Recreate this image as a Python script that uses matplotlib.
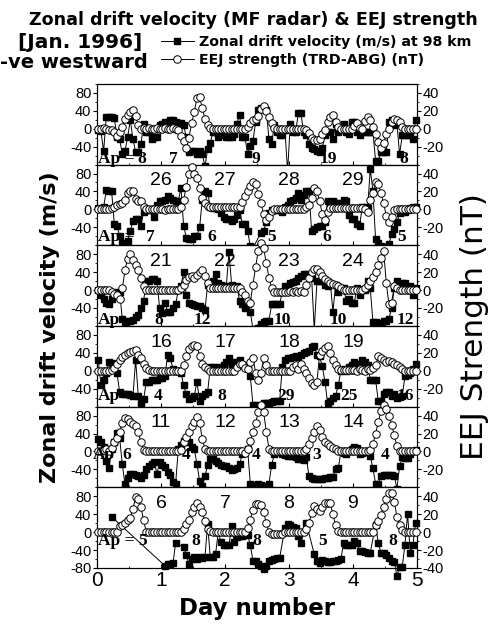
"""
Zonal drift velocity (MF radar) and EEJ strength, Jan 1996 - stacked 5-day panels
"""

import numpy as np
import matplotlib
matplotlib.use('Agg')
import matplotlib.pyplot as plt
from matplotlib.ticker import MultipleLocator

plt.rcParams['font.family'] = ['Liberation Sans', 'DejaVu Sans']
plt.rcParams['axes.unicode_minus'] = False

N = None  # missing radar hour

# hourly values, 5 days per panel, panels listed top to bottom
# EEJ strength (nT)
eej_p1 = [0,0,1,0,-1,-2,-4,-8,-4,2,11,15,19,21,14,4,0,1,0,1,0,0,1,0,
          0,1,0,0,1,0,-2,-8,-14,-21,-10,6,19,34,35,23,11,4,1,0,0,0,0,0,
          0,0,0,0,0,0,0,0,2,6,10,11,14,22,25,20,13,6,1,0,0,0,0,0,
          0,0,0,0,0,0,-2,-5,-10,-13,-13,-11,-6,-1,8,13,15,8,2,0,0,0,0,0,
          3,6,1,0,9,13,10,2,-6,-15,-21,-16,-6,0,8,11,10,7,2,0,0,0,0,0]
eej_p2 = [0,0,0,0,0,1,3,5,6,7,11,18,20,20,12,9,9,3,0,0,0,0,0,0,
          0,-1,0,0,0,0,0,3,11,25,40,47,40,35,24,13,7,4,3,3,3,3,3,3,
          3,3,3,3,3,3,8,15,20,26,30,28,17,7,-5,-12,-8,-2,0,0,0,0,0,0,
          0,0,0,0,0,0,3,5,13,24,20,9,-5,-12,-3,1,1,1,1,1,1,1,1,1,
          1,1,1,1,0,-3,11,18,30,28,18,7,-7,-14,-9,-1,0,0,0,0,0,0,0,0]
eej_p3 = [0,0,0,0,0,-2,-4,-6,-10,2,22,35,40,34,28,22,14,4,0,0,0,0,0,0,
          0,0,0,0,0,0,0,2,6,11,15,16,14,17,20,22,16,8,2,2,2,2,2,2,
          2,2,2,2,2,2,-2,-6,-12,-14,6,26,44,52,47,30,14,2,-2,-2,-2,-2,-2,-2,
          -1,-2,-1,-2,-1,-2,6,14,20,24,23,20,16,12,10,8,7,6,4,2,0,0,0,0,
          0,0,0,0,2,6,10,15,20,28,36,44,8,-16,-14,4,2,0,0,0,0,0,0,0]
eej_p4 = [0,0,0,0,0,1,3,7,12,15,18,20,21,22,23,18,14,8,3,1,0,0,0,0,
          0,0,0,0,0,0,0,0,6,16,24,28,29,28,16,8,4,2,0,0,0,0,0,0,
          0,0,0,0,4,8,7,3,2,10,14,-2,-10,-3,14,6,0,0,0,0,0,0,0,0,
          0,4,6,2,8,2,-2,-8,-14,-16,-12,18,22,25,28,20,12,6,2,1,1,1,1,1,
          1,0,2,1,0,2,1,3,6,16,14,12,10,11,10,8,6,4,2,0,0,0,0,0]
eej_p5 = [0,0,2,3,1,4,10,15,22,32,37,36,33,31,28,22,10,2,0,0,0,0,0,0,
          0,0,0,0,0,0,0,2,10,16,22,28,33,38,32,14,3,0,0,0,0,0,0,0,
          0,0,0,0,0,0,0,-2,3,12,22,32,44,52,44,22,3,1,0,0,0,0,0,0,
          1,1,1,1,1,1,3,8,15,22,28,24,16,10,8,6,4,3,0,0,0,0,0,0,
          0,0,0,0,0,0,2,8,20,33,45,52,47,40,30,18,6,1,0,0,0,0,0,0]
eej_p6 = [0,0,0,0,0,0,0,0,7,8,10,13,16,26,39,37,28,13,0,0,0,0,0,0,
          0,0,0,0,0,0,0,0,3,9,14,22,28,32,28,22,12,4,1,0,0,0,0,0,
          0,0,0,0,0,0,0,0,5,14,25,31,31,30,22,10,0,-2,-2,-2,-2,-2,0,0,
          0,0,0,0,0,0,3,10,21,29,26,23,28,33,32,32,20,8,1,0,0,0,0,0,
          0,0,0,0,0,0,0,0,8,12,19,28,37,44,44,34,17,8,2,0,0,0,0,0]

# zonal drift velocity at 98 km (m/s)
vel_p1 = [-4,-6,-50,27,27,27,24,-19,-23,-57,-50,-19,19,-23,-53,-53,-34,11,-8,-8,-23,-19,-19,8,
          11,15,15,19,19,15,12,12,8,-19,-53,-50,-50,-57,-50,-57,-84,-46,-31,-8,-8,-19,-15,-8,
          -19,-19,-19,-11,11,31,-19,-19,-57,-38,-27,15,42,46,46,42,-23,-34,8,-8,-15,-15,-4,-95,
          11,-8,-8,34,34,-8,-15,-34,-42,-46,-50,-53,-42,-15,-8,-8,-23,11,-8,4,11,-8,-11,15,
          15,-8,-15,-8,-8,-8,-8,-8,-72,-72,-53,-53,-53,15,19,8,11,-57,-15,-15,-15,-15,-23,19]
vel_p2 = [2,0,5,43,40,40,-32,-36,-60,-75,-75,-70,-48,-25,-21,-21,-36,-5,-2,-2,-2,-17,10,18,
          18,22,29,25,22,18,18,48,-36,-63,-67,-67,-59,-59,-40,22,40,37,6,2,2,0,-9,-17,
          -21,-21,-25,-21,-13,-2,-32,-32,-48,-82,-86,N,N,-52,-48,-28,-9,-2,-2,-2,-2,-5,6,10,
          18,22,25,37,22,33,40,40,-48,-44,-40,-36,-36,-28,18,14,18,14,14,10,22,18,-13,-21,
          -21,-32,-36,6,6,2,90,40,-67,-75,-82,-86,-86,-78,-55,-44,-28,-9,-5,-5,-2,2,6,6]
vel_p3 = [0,-12,-20,-28,-32,-20,-10,-4,-4,-64,-72,-68,-68,-66,-60,-56,-40,-24,20,20,24,24,20,-40,
          -52,-28,-48,-48,-40,-32,0,10,40,-12,-28,-32,-34,-36,-36,-40,-44,12,12,20,36,16,12,8,
          8,84,12,4,8,-24,-30,-40,-32,-48,-88,-86,-84,-76,-72,-70,-68,-32,-32,-32,-32,-4,8,8,
          16,18,20,28,32,36,36,32,28,-88,20,20,20,12,10,16,-48,12,-4,4,4,-24,-20,-28,
          -28,4,-12,0,0,20,4,-72,-72,-76,-74,-70,-68,-64,-40,4,20,12,16,16,4,8,-12,4]
vel_p4 = [24,-32,-20,-4,20,18,16,-4,-48,-52,-52,-52,-54,-56,24,-56,-72,-64,-24,-24,-20,-20,-20,-16,
          -16,-12,36,28,4,0,0,-4,-32,-52,-64,-60,-56,-24,-68,-56,-52,-48,8,8,4,8,4,12,
          20,28,16,20,20,24,12,8,12,-12,-76,-76,-80,-84,-72,-72,-72,-70,-68,-68,-68,8,24,28,
          28,30,32,30,36,40,42,44,52,56,36,32,10,-24,-72,-68,-60,-56,-32,0,4,0,8,12,
          20,8,16,24,20,12,-20,-20,-20,-68,-68,-52,-48,-48,-56,-52,-60,-58,-56,-12,-10,-4,4,14]
vel_p5 = [28,20,10,-22,-37,5,20,42,30,-29,-73,-60,-50,-50,-52,-55,-60,-53,-40,-33,-28,-24,-50,-24,
          -30,-35,-45,-53,-68,-72,5,15,24,28,20,10,5,-28,-66,-77,-55,-30,-16,-18,-22,-26,-30,-33,
          -33,-38,-42,-40,-36,-28,-6,0,5,-72,-79,-75,-72,-75,-77,-79,-72,-31,-6,-2,-2,-5,-9,-11,
          -11,-11,-13,-16,-18,-20,-12,-55,-60,-61,-61,-61,-61,-60,-60,-58,-57,-39,-38,0,-3,-6,2,5,
          10,8,-5,-3,-2,0,-10,-38,-72,-72,-55,-53,-53,-53,-53,-55,-83,-33,-13,-15,-15,-5,0,3]
vel_p6 = [N,N,N,N,N,34,N,N,N,N,N,N,N,N,N,N,N,N,N,N,N,N,N,N,
          N,-75,-72,-72,-70,-25,N,N,-33,-50,-72,-60,-56,-60,-56,-58,-56,17,-56,-56,-48,0,-22,-29,
          -29,-29,13,-22,-10,-8,-8,-6,-6,-29,-64,-64,-72,-75,-83,-75,-65,-62,-60,-58,-58,N,10,17,
          15,12,9,-9,-25,N,20,N,N,-49,-65,-70,-62,-65,-66,-66,-64,-64,-62,-60,-24,-28,-28,-28,
          -20,-24,-42,-42,-44,-46,-46,N,16,-24,-46,-46,-50,-58,-64,-66,-97,-77,-77,-28,41,-46,-28,20]

eej_all = [eej_p1, eej_p2, eej_p3, eej_p4, eej_p5, eej_p6]
vel_all = [vel_p1, vel_p2, vel_p3, vel_p4, vel_p5, vel_p6]

day_labels = [[], ['26', '27', '28', '29'], ['21', '22', '23', '24'],
              ['16', '17', '18', '19'], ['11', '12', '13', '14'], ['6', '7', '8', '9']]
ap_values = [['8', '7', '9', '19', '8'], ['7', '6', '5', '6', '5'], ['8', '12', '10', '10', '12'],
             ['4', '8', '29', '25', '16'], ['6', '4', '4', '3', '4'], ['5', '8', '8', '5', '8']]

# label placement (x in day units, y in m/s)
ap_prefix = ['Ap =', 'Ap =', 'Ap', 'Ap', 'Ap', 'Ap =']
ap_px = [0.02, 0.02, 0.02, 0.02, -0.06, 0.02]
ap_x = [[0.7, 1.19, 2.49, 3.61, 4.79], [0.83, 1.79, 2.73, 3.59, 4.76], [0.96, 1.64, 2.89, 3.77, 4.81],
        [0.96, 1.95, 2.96, 3.93, 4.81], [0.46, 1.4, 2.49, 3.43, 4.5], [0.71, 1.55, 2.5, 3.53, 4.63]]
ap_y = [-68, -61, -66, -57, -7, -20]

hours = np.arange(120)
x = hours / 24.0 + 0.02

plt.close('all')
fig, axs = plt.subplots(6, 1, figsize=(4.9, 6.26), dpi=100, sharex=True)
plt.subplots_adjust(left=0.198, right=0.851, bottom=0.0927, top=0.866, hspace=0)

fs_tick = 10.5
apfont = dict(family=['Liberation Serif', 'DejaVu Serif'], weight='bold', size=12.5)
boldfam = ['DejaVu Sans']

for i, ax in enumerate(axs):
    vel = np.array(vel_all[i], dtype=float)
    ok = ~np.isnan(vel)
    sq, = ax.plot(x[ok], vel[ok], '-', color='k', lw=0.7, marker='s', ms=4,
                  mfc='k', mec='k', clip_on=False, zorder=3)
    ax.set_xlim(0, 5)
    ax.set_ylim(-80, 100)
    bottom = (i == len(axs) - 1)
    ax.set_yticks([-80, -40, 0, 40, 80] if bottom else [-40, 0, 40, 80])
    ax.yaxis.set_minor_locator(MultipleLocator(20))
    ax.xaxis.set_major_locator(MultipleLocator(1))
    ax.xaxis.set_minor_locator(MultipleLocator(0.5))
    ax.tick_params(axis='y', which='major', direction='out', length=3, labelsize=fs_tick, pad=1)
    ax.tick_params(axis='y', which='minor', direction='out', length=1.5)
    ax.tick_params(axis='x', which='major', direction='in', length=3, labelsize=15, pad=2)
    ax.tick_params(axis='x', which='minor', direction='in', length=1.5)

    ax2 = ax.twinx()
    ci, = ax2.plot(x, eej_all[i], '-', color='k', lw=0.7, marker='o', ms=5.4,
                   mfc='white', mec='k', mew=0.7, clip_on=False, zorder=3)
    ax2.set_ylim(-40, 50)
    ax2.set_yticks([-40, -20, 0, 20, 40] if bottom else [-20, 0, 20, 40])
    ax2.yaxis.set_minor_locator(MultipleLocator(10))
    ax2.tick_params(axis='y', which='major', direction='out', length=3, labelsize=fs_tick, pad=1)
    ax2.tick_params(axis='y', which='minor', direction='out', length=1.5)

    # labels go on the twin so they sit above both curves
    for d, lab in enumerate(day_labels[i]):
        ax2.text(d + 1, 64, lab, transform=ax.transData, ha='center', va='center',
                 fontsize=14, zorder=5)
    ax2.text(ap_px[i], ap_y[i], ap_prefix[i], transform=ax.transData, ha='left', va='center',
             zorder=6, **apfont)
    for xx, lab in zip(ap_x[i], ap_values[i]):
        ax2.text(xx, ap_y[i], lab, transform=ax.transData, ha='center', va='center',
                 zorder=6, **apfont)

    if i == 0:
        sq_line, ci_line = sq, ci

axs[-1].set_xticks([0, 1, 2, 3, 4, 5])

fig.text(0.518, 1 - 20/626, 'Zonal drift velocity (MF radar) & EEJ strength',
         ha='center', va='center', fontsize=12.6, weight='bold', family=boldfam)
fig.text(18/490, 1 - 43/626, '[Jan. 1996]', ha='left', va='center', fontsize=14.5,
         weight='bold', family=boldfam)
fig.text(0.0, 1 - 63/626, '-ve westward', ha='left', va='center', fontsize=14,
         weight='bold', family=boldfam)
fig.legend([sq_line, ci_line], ['Zonal drift velocity (m/s) at 98 km', 'EEJ strength (TRD-ABG) (nT)'],
           loc='upper left', bbox_to_anchor=(161/490, 1 - 35/626), frameon=False,
           prop={'weight': 'bold', 'size': 10.2, 'family': boldfam}, handlelength=2.3,
           handletextpad=0.4, labelspacing=0.3, borderaxespad=0, borderpad=0)

fig.text(50/490, 0.478, 'Zonal drift velocity (m/s)', rotation=90, ha='center', va='center',
         fontsize=16, weight='bold', family=boldfam)
fig.text(474/490, 0.478, 'EEJ Strength (nT)', rotation=90, ha='center', va='center',
         fontsize=22.5, family=['DejaVu Sans'])
fig.text(257/490, 1 - 608/626, 'Day number', ha='center', va='center', fontsize=16.5,
         weight='bold', family=boldfam)

fig.savefig('out.png', dpi=100)
